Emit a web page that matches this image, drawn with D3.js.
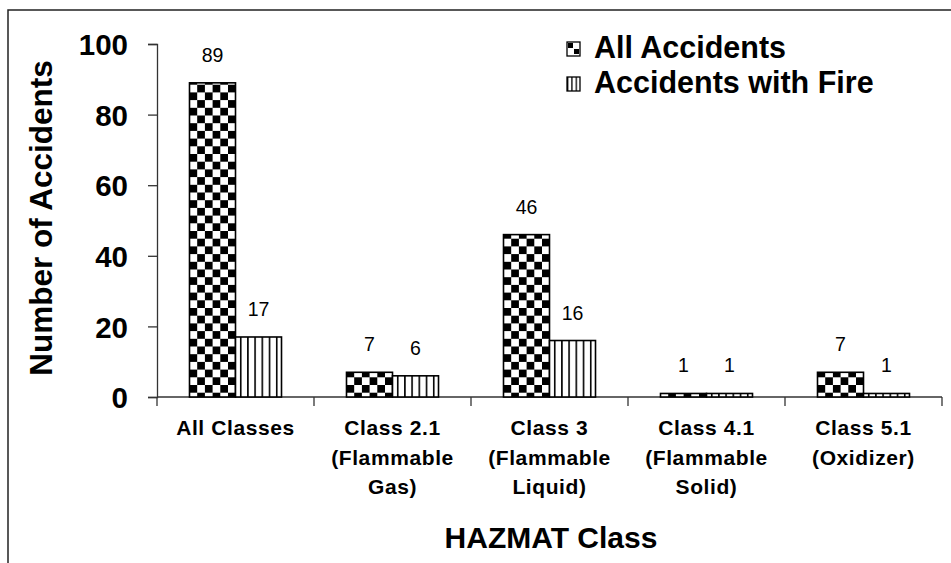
<!DOCTYPE html>
<html>
<head>
<meta charset="utf-8">
<script src="https://cdn.jsdelivr.net/npm/d3@7"></script>
<style>
  body { margin: 0; background: #fff; }
  text { font-family: Arial, "Liberation Sans", sans-serif; fill: #000; }
</style>
</head>
<body>
<div id="app"></div>
<script>
// data
var categories = [
  ['All Classes'],
  ['Class 2.1', '(Flammable', 'Gas)'],
  ['Class 3', '(Flammable', 'Liquid)'],
  ['Class 4.1', '(Flammable', 'Solid)'],
  ['Class 5.1', '(Oxidizer)']
];
var seriesNames = ['All Accidents', 'Accidents with Fire'];
var allAccidents = [89, 7, 46, 1, 7];
var withFire = [17, 6, 16, 1, 1];
var yTicks = [0, 20, 40, 60, 80, 100];

var W = 951, H = 563;
var svg = d3.select('#app').append('svg')
    .attr('width', W)
    .attr('height', H);

// patterns
var defs = svg.append('defs');
var chk = defs.append('pattern')
    .attr('id', 'checker')
    .attr('patternUnits', 'userSpaceOnUse')
    .attr('width', 15.4).attr('height', 15.4);
chk.append('rect').attr('width', 15.4).attr('height', 15.4).attr('fill', '#fff');
chk.append('rect').attr('width', 7.7).attr('height', 7.7).attr('fill', '#000');
chk.append('rect').attr('x', 7.7).attr('y', 7.7).attr('width', 7.7).attr('height', 7.7).attr('fill', '#000');

var str = defs.append('pattern')
    .attr('id', 'stripes')
    .attr('patternUnits', 'userSpaceOnUse')
    .attr('width', 7.2).attr('height', 10);
str.append('rect').attr('width', 7.2).attr('height', 10).attr('fill', '#fff');
str.append('rect').attr('x', 0).attr('width', 1.6).attr('height', 10).attr('fill', '#000');

var chkS = defs.append('pattern')
    .attr('id', 'checkerSmall')
    .attr('patternUnits', 'userSpaceOnUse')
    .attr('x', 567).attr('y', 42)
    .attr('width', 13).attr('height', 13);
chkS.append('rect').attr('width', 13).attr('height', 13).attr('fill', '#fff');
chkS.append('rect').attr('x', 1).attr('y', 1).attr('width', 5).attr('height', 5).attr('fill', '#000');
chkS.append('rect').attr('x', 7).attr('y', 7).attr('width', 5).attr('height', 5).attr('fill', '#000');

var strS = defs.append('pattern')
    .attr('id', 'stripesSmall')
    .attr('patternUnits', 'userSpaceOnUse')
    .attr('x', 567)
    .attr('width', 4.3).attr('height', 10);
strS.append('rect').attr('width', 4.3).attr('height', 10).attr('fill', '#fff');
strS.append('rect').attr('width', 1.3).attr('height', 10).attr('fill', '#000');

var fills = ['url(#checker)', 'url(#stripes)'];
var legendFills = ['url(#checkerSmall)', 'url(#stripesSmall)'];

// outer frame (only top and left are inside the picture)
svg.append('rect')
    .attr('x', 8).attr('y', 10)
    .attr('width', W + 20).attr('height', H + 20)
    .attr('fill', 'none')
    .attr('stroke', '#222')
    .attr('stroke-width', 1.5);

var plotLeft = 157, plotRight = 942, plotTop = 44, plotBottom = 397;

var x0 = d3.scaleBand()
    .domain(d3.range(categories.length))
    .range([plotLeft, plotRight]);

var groupW = x0.bandwidth() * 0.586;
var x1 = d3.scaleBand()
    .domain(d3.range(seriesNames.length))
    .range([0, groupW]);

var y = d3.scaleLinear()
    .domain([0, 100])
    .range([plotBottom, plotTop]);

// y axis
var yAxis = svg.append('g')
    .attr('transform', 'translate(' + plotLeft + ',0)')
    .call(d3.axisLeft(y).tickValues(yTicks).tickSize(9).tickPadding(20));
yAxis.select('.domain').attr('stroke', '#333').attr('stroke-width', 1.3);
yAxis.selectAll('.tick line').attr('stroke', '#333').attr('stroke-width', 1.3);
yAxis.selectAll('.tick text')
    .attr('font-size', 29.5)
    .attr('font-weight', 'bold')
    .attr('font-family', 'Arial, "Liberation Sans", sans-serif')
    .attr('fill', '#000')
    .attr('dy', '0.36em');

// x axis
var xAxis = svg.append('g')
    .attr('transform', 'translate(0,' + plotBottom + ')');
xAxis.append('line')
    .attr('x1', plotLeft).attr('x2', plotRight)
    .attr('stroke', '#333').attr('stroke-width', 1.3);
xAxis.selectAll('line.tk')
    .data(d3.range(categories.length + 1))
  .enter().append('line')
    .attr('class', 'tk')
    .attr('x1', function(d){ return plotLeft + d * x0.step(); })
    .attr('x2', function(d){ return plotLeft + d * x0.step(); })
    .attr('y1', 0).attr('y2', 9)
    .attr('stroke', '#333').attr('stroke-width', 1.3);

var labels = svg.append('g').selectAll('text')
    .data(categories)
  .enter().append('text')
    .attr('text-anchor', 'middle')
    .attr('font-size', 21)
    .attr('font-weight', 'bold')
    .attr('letter-spacing', 0.6)
    .attr('y', 435);
labels.selectAll('tspan')
    .data(function(d, i){ return d.map(function(s){ return {s: s, i: i}; }); })
  .enter().append('tspan')
    .attr('x', function(d){ return x0(d.i) + x0.bandwidth() / 2; })
    .attr('dy', function(d, j){ return j === 0 ? 0 : 29.5; })
    .text(function(d){ return d.s; });

// bars
var series = [allAccidents, withFire];
var groups = svg.append('g').selectAll('g')
    .data(categories)
  .enter().append('g')
    .attr('transform', function(d, i){
      return 'translate(' + (x0(i) + (x0.bandwidth() - groupW) / 2) + ',0)';
    });

groups.selectAll('rect')
    .data(function(d, i){ return series.map(function(s, k){ return {k: k, v: s[i]}; }); })
  .enter().append('rect')
    .attr('x', function(d){ return x1(d.k); })
    .attr('y', function(d){ return y(d.v); })
    .attr('width', x1.bandwidth())
    .attr('height', function(d){ return plotBottom - y(d.v); })
    .attr('fill', function(d){ return fills[d.k]; })
    .attr('stroke', '#000')
    .attr('stroke-width', 1.6);

groups.selectAll('text')
    .data(function(d, i){ return series.map(function(s, k){ return {k: k, v: s[i]}; }); })
  .enter().append('text')
    .attr('x', function(d){ return x1(d.k) + x1.bandwidth() / 2; })
    .attr('y', function(d){ return y(d.v) - 21; })
    .attr('text-anchor', 'middle')
    .attr('font-size', 19.5)
    .text(function(d){ return d.v; });

// axis titles
svg.append('text')
    .attr('transform', 'translate(52,218) rotate(-90)')
    .attr('text-anchor', 'middle')
    .attr('font-size', 31.5)
    .attr('font-weight', 'bold')
    .text('Number of Accidents');

svg.append('text')
    .attr('x', 551).attr('y', 548)
    .attr('text-anchor', 'middle')
    .attr('font-size', 30)
    .attr('font-weight', 'bold')
    .text('HAZMAT Class');

// legend
var legend = svg.append('g').selectAll('g')
    .data(seriesNames)
  .enter().append('g')
    .attr('transform', function(d, i){ return 'translate(0,' + (i * 35) + ')'; });
legend.append('rect')
    .attr('x', 567).attr('y', 42)
    .attr('width', 13).attr('height', 14)
    .attr('fill', function(d, i){ return legendFills[i]; })
    .attr('stroke', '#000')
    .attr('stroke-width', 1.3);
legend.append('text')
    .attr('x', 594).attr('y', 58)
    .attr('font-size', 30.5)
    .attr('font-weight', 'bold')
    .text(function(d){ return d; });
</script>
</body>
</html>
